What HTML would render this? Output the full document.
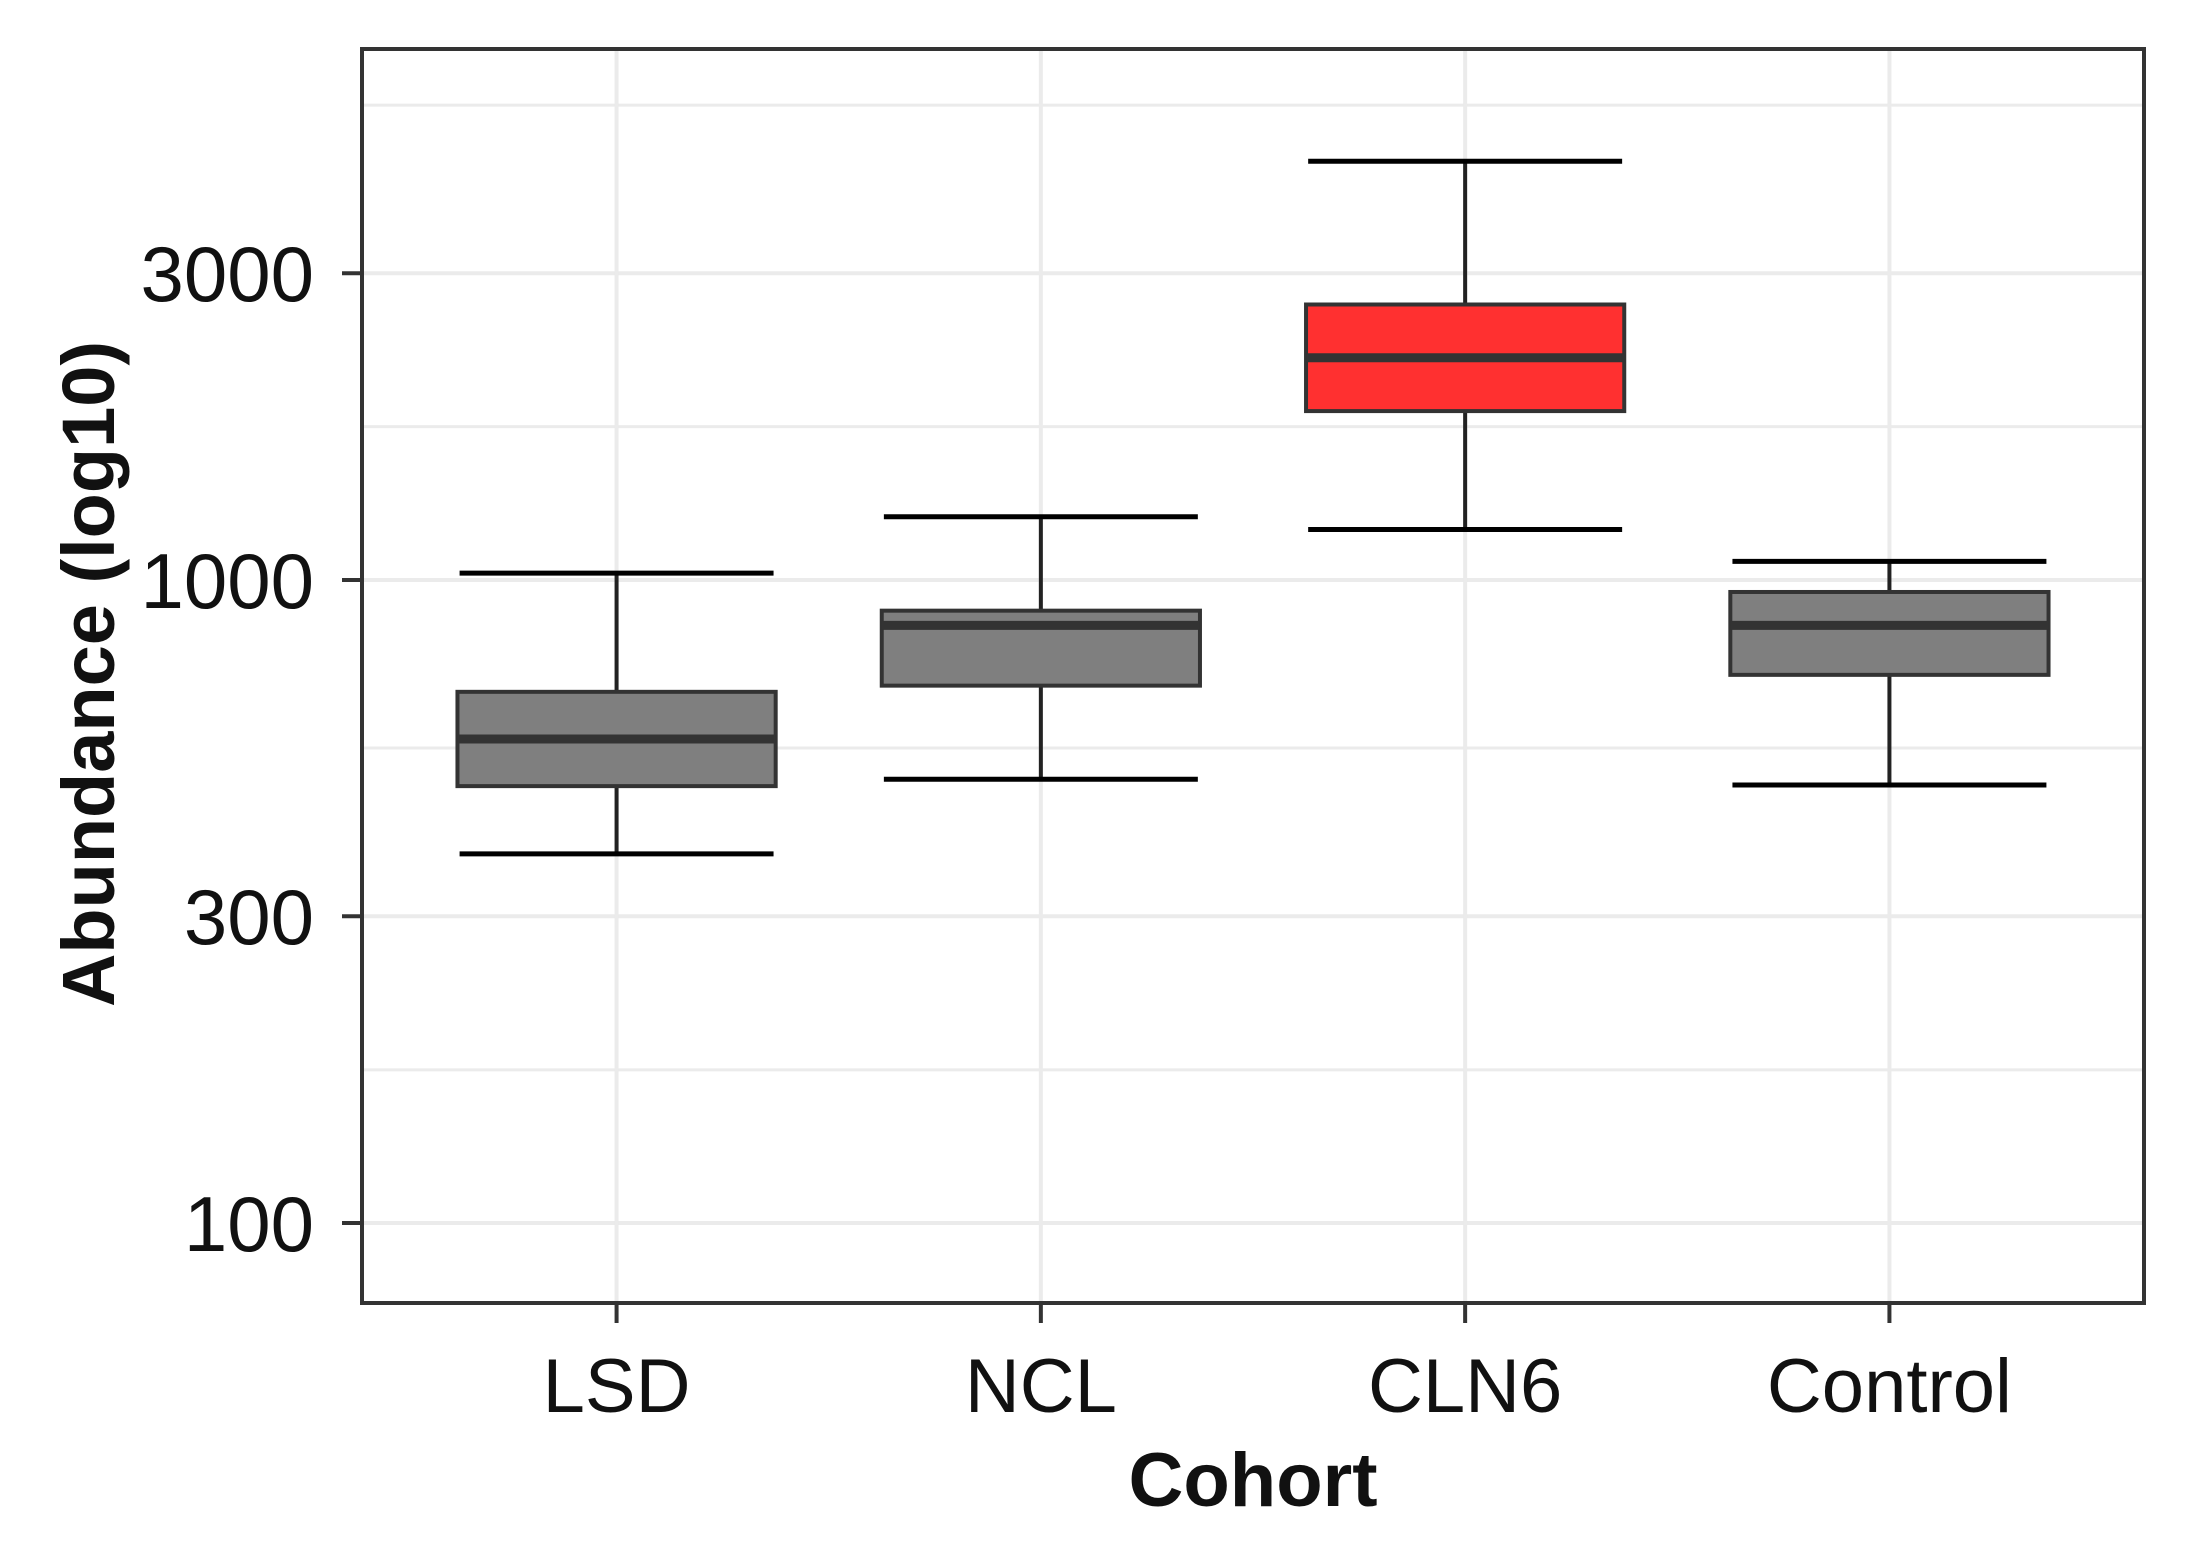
<!DOCTYPE html>
<html><head><meta charset="utf-8"><style>
html,body{margin:0;padding:0;background:#fff}
svg{display:block}
text{font-family:"Liberation Sans",Arial,sans-serif;fill:#111}
</style></head><body>
<svg id="chart" width="2185" height="1550" viewBox="0 0 2185 1550" xmlns="http://www.w3.org/2000/svg"></svg>
<script>
const categories = ["LSD","NCL","CLN6","Control"];
const whiskerLow = [375, 490, 1198, 480];
const q1 = [478, 685, 1831, 712];
const median = [566, 850, 2216, 850];
const q3 = [670, 896, 2682, 958];
const whiskerHigh = [1025, 1254, 4479, 1069];
const fills = ["#7f7f7f","#7f7f7f","#ff3030","#7f7f7f"];
const yTicks = [100, 300, 1000, 3000];
const yTickLabels = ["100","300","1000","3000"];
const yMinor = [55, 173, 548, 1732, 5477];

const svg = document.getElementById('chart');
const NS = 'http://www.w3.org/2000/svg';
const L = 362, R = 2144, T = 49, B = 1303;
const perDecade = 643, y1000 = 580;
function y(v){ return y1000 - (Math.log10(v) - 3) * perDecade; }
const unit = (R - L) / 4.2;
function x(i){ return L + (0.6 + i) * unit; }
function mk(tag, attrs, parent){
  const e = document.createElementNS(NS, tag);
  for (const k in attrs) e.setAttribute(k, attrs[k]);
  (parent || svg).appendChild(e);
  return e;
}
const grid = mk('g', {});


yMinor.forEach(v => { const yy = y(v); if (yy > T && yy < B) mk('line', {x1:L, x2:R, y1:yy, y2:yy, stroke:'#ebebeb', 'stroke-width':3}, grid); });
yTicks.forEach(v => mk('line', {x1:L, x2:R, y1:y(v), y2:y(v), stroke:'#ebebeb', 'stroke-width':4}, grid));
categories.forEach((c,i) => mk('line', {x1:x(i), x2:x(i), y1:T, y2:B, stroke:'#ebebeb', 'stroke-width':4}, grid));

const bw = 0.75 * unit, cw = 0.74 * unit;
categories.forEach((c,i) => {
  const g = mk('g', {});
  
  
  const cx = x(i);
  mk('line', {x1:cx, x2:cx, y1:y(whiskerHigh[i]), y2:y(q3[i]), stroke:'#222', 'stroke-width':4}, g);
  mk('line', {x1:cx, x2:cx, y1:y(q1[i]), y2:y(whiskerLow[i]), stroke:'#222', 'stroke-width':4}, g);
  mk('line', {x1:cx-cw/2, x2:cx+cw/2, y1:y(whiskerHigh[i]), y2:y(whiskerHigh[i]), stroke:'#000', 'stroke-width':5}, g);
  mk('line', {x1:cx-cw/2, x2:cx+cw/2, y1:y(whiskerLow[i]), y2:y(whiskerLow[i]), stroke:'#000', 'stroke-width':5}, g);
  mk('rect', {x:cx-bw/2, y:y(q3[i]), width:bw, height:y(q1[i])-y(q3[i]), fill:fills[i], stroke:'#333', 'stroke-width':4}, g);
  mk('line', {x1:cx-bw/2, x2:cx+bw/2, y1:y(median[i]), y2:y(median[i]), stroke:'#333', 'stroke-width':9}, g);
  mk('line', {x1:cx, x2:cx, y1:B, y2:B+20, stroke:'#333', 'stroke-width':4});
  const t = mk('text', {x:cx, y:1412, 'font-size':76, 'text-anchor':'middle'});
  t.textContent = c;
  
  
});
yTicks.forEach((v,i) => {
  mk('line', {x1:L-20, x2:L, y1:y(v), y2:y(v), stroke:'#333', 'stroke-width':4});
  const t = mk('text', {x:L-48, y:y(v)+28, 'font-size':78, 'text-anchor':'end'});
  t.textContent = yTickLabels[i];
  
  
});
const frame = mk('rect', {x:L, y:T, width:R-L, height:B-T, fill:'none', stroke:'#333', 'stroke-width':4});


const xt = mk('text', {x:(L+R)/2, y:1506, 'font-size':76, 'font-weight':'bold', 'text-anchor':'middle'});
xt.textContent = 'Cohort';


const yt = mk('text', {x:0, y:0, 'font-size':74, 'font-weight':'bold', 'text-anchor':'middle', transform:'translate(114,674) rotate(-90)'});
yt.textContent = 'Abundance (log10)';


</script>
</body></html>
